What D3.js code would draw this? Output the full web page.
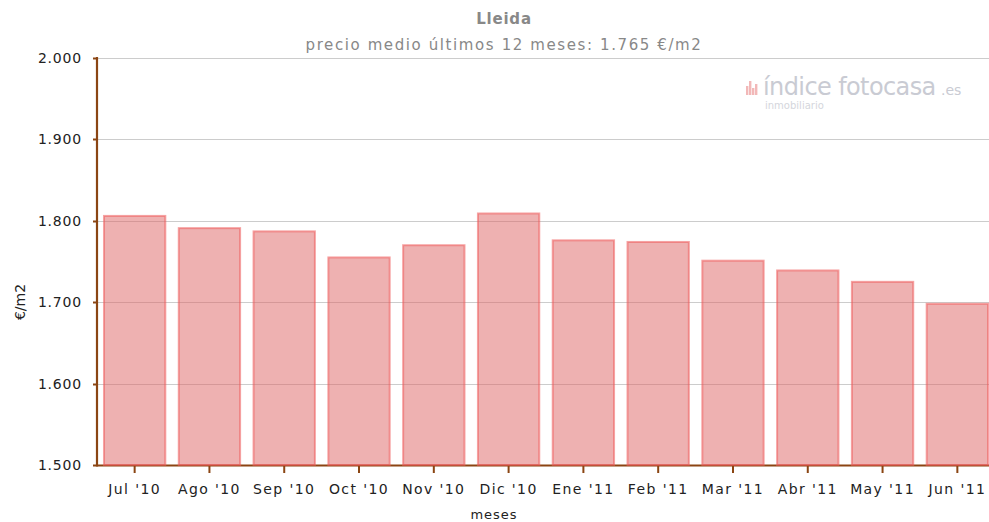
<!DOCTYPE html>
<html>
<head>
<meta charset="utf-8">
<script src="https://cdn.jsdelivr.net/npm/d3@7"></script>
<style>
  body { margin: 0; background: #fff; }
  text { font-family: "DejaVu Sans", Verdana, sans-serif; }
</style>
</head>
<body>
<script>
// data
var MONTHS = ["Jul '10","Ago '10","Sep '10","Oct '10","Nov '10","Dic '10","Ene '11","Feb '11","Mar '11","Abr '11","May '11","Jun '11"];
var PRICES = [1806, 1791, 1787, 1755, 1770, 1809, 1776, 1774, 1751, 1739, 1725, 1698];
var Y_TICKS = [1500, 1600, 1700, 1800, 1900, 2000];
var TITLE = "Lleida";
var SUBTITLE = "precio medio últimos 12 meses: 1.765 €/m2";

var w = 989, h = 522;
var AxisColor = '#8b4513';
var GridColor = '#cccccc';
var BarFill = 'rgba(222,100,100,0.5)';
var BarStroke = 'rgba(238,90,90,0.55)';

SVG = d3.select('body').append('svg').attr('width', w).attr('height', h);

var x = d3.scaleBand().domain(MONTHS).range([98, 994]).paddingInner(0.18).paddingOuter(0.08);
var y = d3.scaleLinear().domain([1500, 2000]).range([465, 58]);
var fmt = d3.formatLocale({decimal: ",", thousands: ".", grouping: [3], currency: ["", "€"]}).format(",");

// grid
SVG.append("g").selectAll("line").data(Y_TICKS.slice(1)).enter().append("line")
   .attr("x1", 98).attr("x2", w)
   .attr("y1", function(d){ return Math.round(y(d)) + 0.5; })
   .attr("y2", function(d){ return Math.round(y(d)) + 0.5; })
   .attr("stroke", GridColor).attr("stroke-width", 1.2);

// watermark
var wm = SVG.append("g").attr("transform", "translate(746,95)");
[[0,9],[3,14],[6,7],[9,11]].forEach(function(b){
  wm.append("rect").attr("x", b[0]).attr("y", -b[1]).attr("width", 2.4).attr("height", b[1]).attr("fill", "#f2b8b8");
});
wm.append("text").attr("x", 17).attr("y", 0)
  .attr("font-family", "'Open Sans', sans-serif").attr("font-size", 24).attr("fill", "#c9cbd3")
  .attr("letter-spacing", -0.6)
  .text("índice fotocasa");
wm.append("text").attr("x", 195).attr("y", 0)
  .attr("font-family", "'Open Sans', sans-serif").attr("font-size", 14).attr("fill", "#c9cbd3")
  .text(".es");
wm.append("text").attr("x", 19).attr("y", 14)
  .attr("font-family", "'Open Sans', sans-serif").attr("font-size", 10).attr("fill", "#d4d6dc")
  .text("inmobiliario");

// x axis line
SVG.append("line").attr("x1", 97).attr("x2", w).attr("y1", 465.5).attr("y2", 465.5)
   .attr("stroke", AxisColor).attr("stroke-width", 2.2);

// bars
SVG.append("g").selectAll("rect").data(PRICES).enter().append("rect")
   .attr("x", function(d, i){ return x(MONTHS[i]); })
   .attr("y", function(d){ return y(d); })
   .attr("width", x.bandwidth())
   .attr("height", function(d){ return y(1500) - y(d); })
   .attr("fill", BarFill)
   .attr("stroke", BarStroke)
   .attr("stroke-width", 2);

// x ticks + labels
var xg = SVG.append("g");
xg.selectAll("line").data(MONTHS).enter().append("line")
  .attr("x1", function(d){ return x(d) + x.bandwidth()/2; })
  .attr("x2", function(d){ return x(d) + x.bandwidth()/2; })
  .attr("y1", 466).attr("y2", 473)
  .attr("stroke", AxisColor).attr("stroke-width", 2);
xg.selectAll("text").data(MONTHS).enter().append("text")
  .attr("x", function(d){ return x(d) + x.bandwidth()/2; })
  .attr("y", 494)
  .attr("text-anchor", "middle")
  .attr("font-size", 14).attr("letter-spacing", 1.4).attr("fill", "#222")
  .text(function(d){ return d; });

// y axis
SVG.append("line").attr("x1", 97).attr("x2", 97).attr("y1", 57).attr("y2", 466.5)
   .attr("stroke", AxisColor).attr("stroke-width", 2.2);
var yg = SVG.append("g");
yg.selectAll("line").data(Y_TICKS).enter().append("line")
  .attr("x1", 93).attr("x2", 97)
  .attr("y1", function(d){ return Math.round(y(d)) + 0.5; })
  .attr("y2", function(d){ return Math.round(y(d)) + 0.5; })
  .attr("stroke", AxisColor).attr("stroke-width", 2);
yg.selectAll("text").data(Y_TICKS).enter().append("text")
  .attr("x", 82).attr("y", function(d){ return y(d) + 5; })
  .attr("text-anchor", "end")
  .attr("font-size", 14).attr("letter-spacing", 0.8).attr("fill", "#222")
  .text(function(d){ return fmt(d); });

// titles
SVG.append("text").attr("x", 504).attr("y", 24).attr("text-anchor", "middle")
   .attr("font-size", 15).attr("font-weight", "bold").attr("letter-spacing", 0.8).attr("fill", "#888")
   .text(TITLE);
SVG.append("text").attr("x", 504).attr("y", 50).attr("text-anchor", "middle")
   .attr("font-size", 15).attr("letter-spacing", 1.6).attr("fill", "#888")
   .text(SUBTITLE);
SVG.append("text").attr("transform", "translate(25,302) rotate(-90)")
   .attr("text-anchor", "middle").attr("font-size", 14).attr("fill", "#222")
   .text("€/m2");
SVG.append("text").attr("x", 494).attr("y", 519).attr("text-anchor", "middle")
   .attr("font-size", 13).attr("letter-spacing", 1).attr("fill", "#222")
   .text("meses");
</script>
</body>
</html>
